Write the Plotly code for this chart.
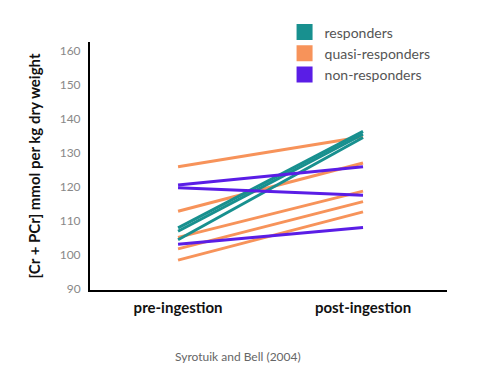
import plotly.graph_objects as go

phases = ["pre-ingestion", "post-ingestion"]
groups = ["responders", "quasi-responders", "non-responders"]
colors = {"responders": "#18908f", "quasi-responders": "#f7935a", "non-responders": "#5a1de6"}

responders_pre = [108.0, 107.0, 104.5]
responders_post = [136.4, 135.6, 134.6]
quasi_pre = [126.0, 112.9, 105.2, 101.8, 98.5]
quasi_post = [134.8, 127.1, 118.8, 115.7, 112.7]
non_pre = [120.6, 119.8, 103.2]
non_post = [126.0, 117.6, 108.1]

series = {
    "quasi-responders": (quasi_pre, quasi_post),
    "responders": (responders_pre, responders_post),
    "non-responders": (non_pre, non_post),
}

fig = go.Figure()
xpos = [0, 1]
for g, (pre, post) in series.items():
    for a, b in zip(pre, post):
        fig.add_trace(go.Scatter(x=xpos, y=[a, b], mode="lines",
                                 line=dict(color=colors[g], width=3),
                                 showlegend=False, hoverinfo="skip"))

for g in groups:
    fig.add_trace(go.Scatter(x=[None], y=[None], mode="markers", name=g,
                             marker=dict(symbol="square", size=16, color=colors[g])))

fig.update_layout(
    width=480, height=370,
    margin=dict(l=82, r=41, t=34, b=88, autoexpand=False),
    paper_bgcolor="white", plot_bgcolor="white",
    font=dict(family="Lato", color="#555"),
    showlegend=True,
    legend=dict(x=0.545, y=1.103, xanchor="left", yanchor="top",
                font=dict(size=14, color="#555"), itemsizing="trace",
                itemwidth=30, tracegroupgap=0, bgcolor="rgba(0,0,0,0)"),
    xaxis=dict(range=[-0.476, 1.454], tickvals=xpos, ticktext=phases,
               showgrid=False, zeroline=False, showline=True, linecolor="black",
               linewidth=2, ticks="", ticklabelstandoff=3, automargin=False,
               tickfont=dict(size=15, color="#111", family="Lato", weight="bold")),
    yaxis=dict(range=[89.7, 162.7], tickvals=[90, 100, 110, 120, 130, 140, 150, 160],
               showgrid=False, zeroline=False, showline=True, linecolor="black",
               linewidth=2, ticks="", ticklabelstandoff=5, automargin=False,
               tickfont=dict(size=12, color="#888"),
               title=dict(text="[Cr + PCr] mmol per kg dry weight", standoff=15,
                          font=dict(size=15, color="#111", family="Lato", weight="bold"))),
    annotations=[dict(text="Syrotuik and Bell (2004)", xref="paper", yref="paper",
                      x=0.415, y=-0.27, xanchor="center", yanchor="middle",
                      showarrow=False, font=dict(size=12, color="#666"))],
)

fig.write_html("out.html")
